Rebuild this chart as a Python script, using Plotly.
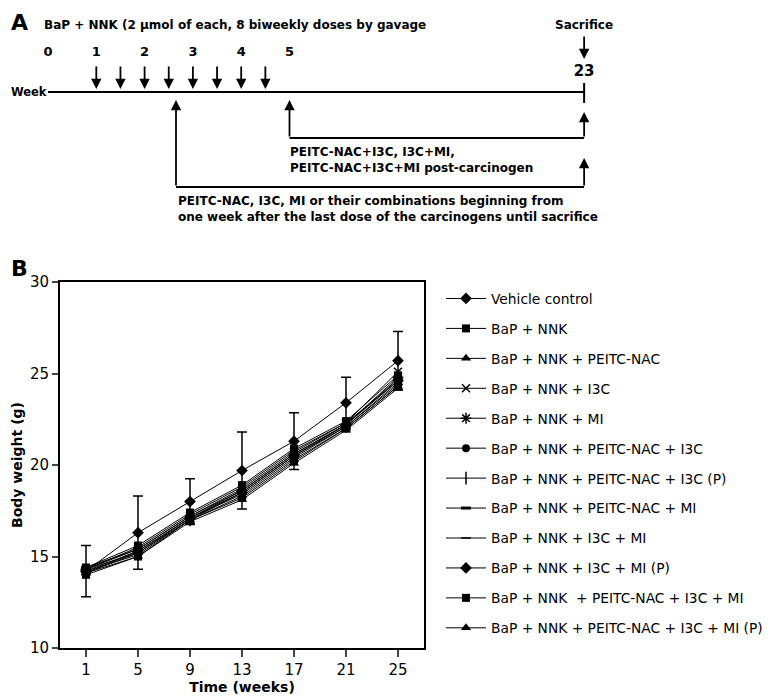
import plotly.graph_objects as go

# ---------------- Panel B data ----------------
weeks = [1, 5, 9, 13, 17, 21, 25]
series_names = [
    "Vehicle control",
    "BaP + NNK",
    "BaP + NNK + PEITC-NAC",
    "BaP + NNK + I3C",
    "BaP + NNK + MI",
    "BaP + NNK + PEITC-NAC + I3C",
    "BaP + NNK + PEITC-NAC + I3C (P)",
    "BaP + NNK + PEITC-NAC + MI",
    "BaP + NNK + I3C + MI",
    "BaP + NNK + I3C + MI (P)",
    "BaP + NNK  + PEITC-NAC + I3C + MI",
    "BaP + NNK + PEITC-NAC + I3C + MI (P)",
]
vehicle = [14.2, 16.3, 18.0, 19.7, 21.3, 23.4, 25.7]
vehicle_sd = [1.4, 2.0, 1.25, 2.1, 1.55, 1.4, 1.6]
bap_nnk = [14.4, 15.6, 17.4, 18.9, 20.9, 22.4, 24.9]
bap_peitc = [14.1, 15.2, 17.0, 18.3, 20.3, 22.0, 24.3]
bap_i3c = [14.3, 15.4, 17.2, 18.7, 20.7, 22.3, 25.1]
bap_mi = [14.2, 15.3, 17.1, 18.6, 20.6, 22.2, 24.8]
bap_peitc_i3c = [14.3, 15.5, 17.3, 18.8, 20.8, 22.3, 24.6]
bap_peitc_i3c_p = [14.2, 15.1, 17.0, 18.5, 20.5, 22.1, 24.5]
bap_peitc_mi = [14.4, 15.4, 17.2, 18.6, 20.6, 22.2, 24.7]
bap_i3c_mi = [14.1, 15.3, 17.1, 18.4, 20.4, 22.1, 24.4]
bap_i3c_mi_p = [14.3, 15.2, 17.1, 18.5, 20.5, 22.2, 24.6]
bap_all = [14.0, 15.0, 17.0, 18.2, 20.2, 22.0, 24.3]
bap_all_p = [14.1, 15.0, 16.9, 18.1, 20.1, 21.9, 24.2]
series_values = [vehicle, bap_nnk, bap_peitc, bap_i3c, bap_mi, bap_peitc_i3c,
                 bap_peitc_i3c_p, bap_peitc_mi, bap_i3c_mi, bap_i3c_mi_p,
                 bap_all, bap_all_p]
y_ticks = [10, 15, 20, 25, 30]

# ---------------- Panel A (schematic) data ----------------
week_labels = ["0", "1", "2", "3", "4", "5"]
week_label_pos = [0, 1, 2, 3, 4, 5]
sacrifice_label = "23"
sacrifice_pos = 11.1
dose_times = [1, 1.5, 2, 2.5, 3, 3.5, 4, 4.5]
treat_start_all = 2.65
treat_start_post = 5.0

# ---------------- styles ----------------
markers = [
    dict(symbol="diamond", size=9),
    dict(symbol="square", size=8),
    dict(symbol="triangle-up", size=9),
    dict(symbol="x-thin", size=8, line=dict(width=1.5, color="black")),
    dict(symbol="asterisk", size=9, line=dict(width=1.5, color="black")),
    dict(symbol="circle", size=8),
    dict(symbol="line-ns", size=9, line=dict(width=1.5, color="black")),
    dict(symbol="line-ew", size=7, line=dict(width=3, color="black")),
    dict(symbol="line-ew", size=7, line=dict(width=1.5, color="black")),
    dict(symbol="diamond", size=9),
    dict(symbol="square", size=8),
    dict(symbol="triangle-up", size=9),
]

FONT = "DejaVu Sans, sans-serif"
FONT_B = "DejaVu Sans, sans-serif"

# page body margin: figure pixel = reference pixel - offset
OX, OY = 8, 8
W, H = 770 - OX, 698 - OY


def px(rx):
    return (rx - OX) / W


def py(ry):
    return 1 - (ry - OY) / H


fig = go.Figure()

for i, (name, vals) in enumerate(zip(series_names, series_values)):
    m = dict(color="black")
    m.update(markers[i])
    kw = {}
    if i == 0:
        kw["error_y"] = dict(type="data", array=vehicle_sd, symmetric=True,
                             color="black", thickness=1.5, width=5)
    fig.add_trace(go.Scatter(
        x=weeks, y=vals, name=name, mode="lines+markers",
        line=dict(color="black", width=1), marker=m,
        legendgroup=f"g{i}", xaxis="x", yaxis="y", **kw))

# schematic week labels (text trace on hidden axes)
fig.add_trace(go.Scatter(
    x=week_label_pos, y=[53] * len(week_label_pos), text=week_labels,
    mode="text", textfont=dict(family=FONT_B, size=13, color="black"),
    xaxis="x2", yaxis="y2", showlegend=False, hoverinfo="skip",
    texttemplate="<b>%{text}</b>"))
fig.add_trace(go.Scatter(
    x=[sacrifice_pos], y=[72], text=[sacrifice_label], mode="text",
    textfont=dict(family=FONT_B, size=15, color="black"),
    xaxis="x2", yaxis="y2", showlegend=False, hoverinfo="skip",
    texttemplate="<b>%{text}</b>"))

annotations = []
shapes = []


def arrow(x, y_tail, y_tip):
    annotations.append(dict(
        x=x, y=y_tip, ax=x, ay=y_tail, xref="x2", yref="y2",
        axref="x2", ayref="y2", text="", showarrow=True,
        arrowhead=2, arrowsize=1.15, arrowwidth=1.8, arrowcolor="black"))


for t in dose_times:
    arrow(t, 65, 89)
arrow(sacrifice_pos, 35, 59)
arrow(treat_start_all, 187, 100)
arrow(sacrifice_pos, 187, 158)
arrow(treat_start_post, 138, 100)
arrow(sacrifice_pos, 138, 112)


def hline(x0, x1, y, w=1.8):
    shapes.append(dict(type="line", xref="x2", yref="y2", x0=x0, x1=x1,
                       y0=y, y1=y, line=dict(color="black", width=w)))


hline(0, sacrifice_pos, 92, 2)
hline(treat_start_all, sacrifice_pos, 187)
hline(treat_start_post, sacrifice_pos, 138)
shapes.append(dict(type="line", xref="x2", yref="y2", x0=sacrifice_pos,
                   x1=sacrifice_pos, y0=83, y1=103,
                   line=dict(color="black", width=2)))


def txt(x, y, s, size=12, anchor="left", xref="x2", yref="y2", family=FONT_B,
        yanchor="middle"):
    annotations.append(dict(x=x, y=y, xref=xref, yref=yref, text=s,
                            showarrow=False, xanchor=anchor, yanchor=yanchor,
                            font=dict(family=family, size=size, color="black"),
                            align="left"))


def wx(rx):
    return (rx - 48) / 48.3


txt(wx(42), 25, "<b>BaP + NNK (2 μmol of each, 8 biweekly doses by gavage</b>")
txt(sacrifice_pos, 25, "<b>Sacrifice</b>", anchor="center")
txt(wx(9), 92, "<b>Week</b>", size=11.5)
txt(treat_start_post - 0.03, 160,
    "<b>PEITC-NAC+I3C, I3C+MI,<br>PEITC-NAC+I3C+MI post-carcinogen</b>")
txt(treat_start_all, 209,
    "<b>PEITC-NAC, I3C, MI or their combinations beginning from<br>"
    "one week after the last dose of the carcinogens until sacrifice</b>")
txt(px(9), 1.0, "<b>A</b>", size=22, xref="paper", yref="paper",
    yanchor="top")
txt(px(9), py(268), "<b>B</b>", size=22, xref="paper", yref="paper")

fig.update_layout(
    width=W, height=H,
    margin=dict(l=0, r=0, t=0, b=0, autoexpand=False),
    paper_bgcolor="white", plot_bgcolor="white",
    font=dict(family=FONT, size=14, color="black"),
    showlegend=True,
    legend=dict(x=px(441), y=py(283), xanchor="left", yanchor="top",
                font=dict(family=FONT, size=13.8, color="black"),
                tracegroupgap=9, itemwidth=40, bgcolor="rgba(0,0,0,0)"),
    xaxis=dict(domain=[px(60), px(424)], range=[-1, 27], tickvals=weeks,
               ticks="outside", ticklen=7, tickwidth=1.5, showline=True,
               linewidth=2, linecolor="black", mirror=True, showgrid=False,
               zeroline=False, anchor="y", ticklabelstandoff=0,
               automargin=False,
               tickfont=dict(family=FONT, size=15),
               title=dict(text="<b>Time (weeks)</b>", standoff=4,
                          font=dict(family=FONT_B, size=14))),
    yaxis=dict(domain=[py(648), py(282)], range=[10, 30],
               tickvals=y_ticks, ticks="outside", ticklen=6, tickwidth=1.5,
               showline=True, linewidth=2, linecolor="black", mirror=True,
               showgrid=False, zeroline=False, anchor="x", automargin=False,
               tickfont=dict(family=FONT, size=15),
               title=dict(text="<b>Body weight (g)</b>", standoff=4,
                          font=dict(family=FONT_B, size=14))),
    xaxis2=dict(domain=[0, 1], range=[wx(OX), wx(OX + W)],
                visible=False, anchor="y2", fixedrange=True,
                automargin=False),
    yaxis2=dict(domain=[py(240), 1], range=[240, OY], visible=False,
                anchor="x2", fixedrange=True, automargin=False),
    annotations=annotations, shapes=shapes,
)

fig.write_html("out.html")
